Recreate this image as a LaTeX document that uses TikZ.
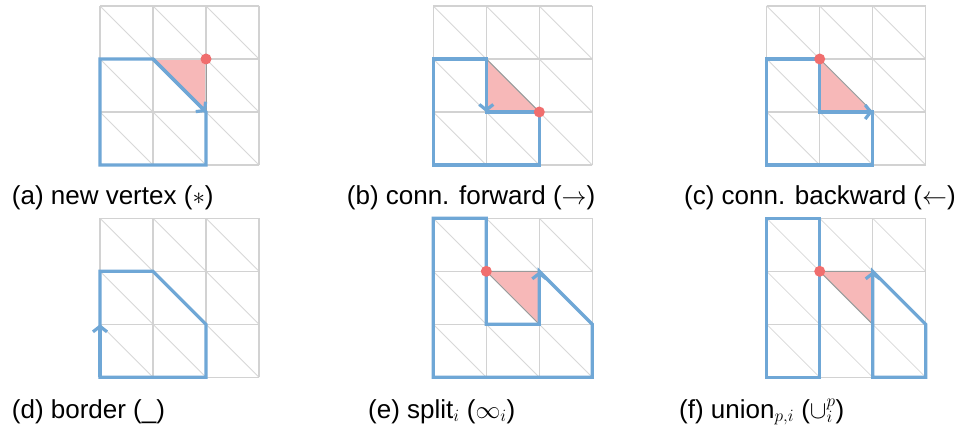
\documentclass[tikz,border=0pt]{standalone}
\usepackage{fontspec}
\setmainfont{Liberation Sans}
\usetikzlibrary{arrows.meta}
\definecolor{gridc}{HTML}{D2D2D2}
\definecolor{diagc}{HTML}{D8D8D8}
\definecolor{bluec}{HTML}{6FA7D6}
\definecolor{pinkc}{HTML}{F7B8B8}
\definecolor{redc}{HTML}{F06E6E}
\definecolor{edgec}{HTML}{9A9A9A}
\tikzset{
  gridline/.style={draw=gridc, line width=1.1pt},
  diagline/.style={draw=diagc, line width=0.8pt},
  boundary/.style={draw=bluec, line width=3.2pt, line join=miter},
  flowarrow/.style={draw=bluec, line width=3.2pt, -{Straight Barb[length=5.5pt,width=14pt]}},
  face/.style={fill=pinkc},
  sharededge/.style={draw=edgec, line width=1pt},
  vtx/.style={circle, fill=redc, inner sep=0pt, minimum size=11pt},
  caption/.style={anchor=base west, font=\fontsize{26}{30}\selectfont, inner sep=0pt},
  panel/.style={x=53pt, y=-53pt}
}
% triangulated 3x3 grid in the current scope
\newcommand\trigrid{%
  \draw[diagline] (0,0)--(3,3) (1,0)--(3,2) (2,0)--(3,1) (0,1)--(2,3) (0,2)--(1,3);
  \foreach \k in {0,...,3} {\draw[gridline] (\k,0)--(\k,3); \draw[gridline] (0,\k)--(3,\k);}
}
\begin{document}
\begin{tikzpicture}[x=1pt, y=-1pt]
\useasboundingbox[fill=white] (0,0) rectangle (960,427);

% (a) new vertex
\begin{scope}[xshift=100pt, yshift=-6pt, panel]
  \fill[face] (1,1)--(2,1)--(2,2)--cycle;
  \trigrid
  \draw[sharededge] (2,1)--(2,2);
  \draw[boundary] (0,1)--(1,1)--(2,2)--(2,3)--(0,3)--cycle;
  \draw[flowarrow] (1,1)--(2,2);
  \node[vtx] (va) at (2,1) {};
\end{scope}

% (b) connect forward
\begin{scope}[xshift=433.3pt, yshift=-6pt, panel]
  \fill[face] (1,1)--(1,2)--(2,2)--cycle;
  \trigrid
  \draw[sharededge] (1,1)--(2,2);
  \draw[boundary] (0,1)--(1,1)--(1,2)--(2,2)--(2,3)--(0,3)--cycle;
  \draw[flowarrow] (1,1)--(1,2);
  \node[vtx] (vb) at (2,2) {};
\end{scope}

% (c) connect backward
\begin{scope}[xshift=766.7pt, yshift=-6pt, panel]
  \fill[face] (1,1)--(1,2)--(2,2)--cycle;
  \trigrid
  \draw[sharededge] (1,1)--(2,2);
  \draw[boundary] (0,1)--(1,1)--(1,2)--(2,2)--(2,3)--(0,3)--cycle;
  \draw[flowarrow] (1,2)--(2,2);
  \node[vtx] (vc) at (1,1) {};
\end{scope}

% (d) border
\begin{scope}[xshift=100pt, yshift=-218.3pt, panel]
  \trigrid
  \draw[boundary] (0,1)--(1,1)--(2,2)--(2,3)--(0,3)--cycle;
  \draw[flowarrow] (0,3)--(0,2);
\end{scope}

% (e) split
\begin{scope}[xshift=433.3pt, yshift=-218.3pt, panel]
  \fill[face] (1,1)--(2,1)--(2,2)--cycle;
  \trigrid
  \draw[sharededge] (2,1)--(1,1)--(2,2);
  \draw[boundary] (0,0)--(1,0)--(1,2)--(2,2)--(2,1)--(3,2)--(3,3)--(0,3)--cycle;
  \draw[flowarrow] (2,2)--(2,1);
  \node[vtx] (ve) at (1,1) {};
\end{scope}

% (f) union
\begin{scope}[xshift=766.7pt, yshift=-218.3pt, panel]
  \fill[face] (1,1)--(2,1)--(2,2)--cycle;
  \trigrid
  \draw[sharededge] (2,1)--(1,1)--(2,2);
  \draw[boundary] (0,0)--(1,0)--(1,3)--(0,3)--cycle;
  \draw[boundary] (2,1)--(3,2)--(3,3)--(2,3)--cycle;
  \draw[flowarrow] (2,2)--(2,1);
  \node[vtx] (vf) at (1,1) {};
\end{scope}

% captions
\node[caption] (capa) at (11.7,204.3) {(a) new vertex ($*$)};
\node[caption] (capb) at (346.7,204.3) {(b) conn. forward ($\rightarrow$)};
\node[caption] (capc) at (684,204.3) {(c) conn. backward ($\leftarrow$)};
\node[caption] (capd) at (11.7,418) {(d) border (\_)};
\node[caption] (cape) at (368,418) {(e) split$_i$ ($\infty_i$)};
\node[caption] (capf) at (679,418) {(f) union$_{p,i}$ ($\cup_i^p$)};
\end{tikzpicture}
\end{document}
